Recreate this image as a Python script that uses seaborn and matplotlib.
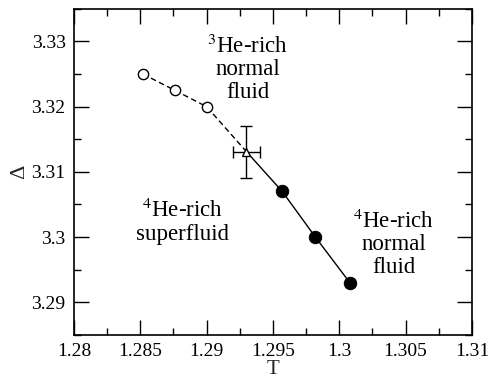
import matplotlib
matplotlib.use("Agg")
import matplotlib.pyplot as plt
import seaborn as sns
import pandas as pd
from matplotlib.ticker import MultipleLocator

# 3He-rich normal fluid boundary (open circles, dashed)
t_open = [1.2852, 1.2876, 1.2900]
d_open = [3.3250, 3.3225, 3.3200]

# tricritical point estimate with error bars
t_tri = [1.2930]
d_tri = [3.3131]
t_err = [0.0010]
d_err = [0.0040]

# lambda line (filled circles, solid)
t_fill = [1.2957, 1.2982, 1.3008]
d_fill = [3.3070, 3.3000, 3.2930]

sns.set_theme(style="ticks")
plt.rcParams["font.family"] = ["Liberation Serif", "DejaVu Serif"]
plt.rcParams["mathtext.fontset"] = "stix"

fig, ax = plt.subplots(figsize=(4.9, 3.84), dpi=100)
fig.subplots_adjust(left=0.151, right=0.963, top=0.977, bottom=0.128)

dash_df = pd.DataFrame({"T": t_open + t_tri, "D": d_open + d_tri})
solid_df = pd.DataFrame({"T": t_tri + t_fill, "D": d_tri + d_fill})

sns.lineplot(data=dash_df, x="T", y="D", ax=ax, color="black", lw=1.0,
             linestyle=(0, (4, 2.5)), sort=False, estimator=None)
sns.lineplot(data=solid_df, x="T", y="D", ax=ax, color="black", lw=1.0,
             sort=False, estimator=None)

sns.scatterplot(x=t_open, y=d_open, ax=ax, marker="o", s=55,
                facecolor="white", edgecolor="black", linewidth=1.0, zorder=3)
sns.scatterplot(x=t_fill, y=d_fill, ax=ax, marker="o", s=80,
                color="black", edgecolor="black", zorder=3)
ax.errorbar(t_tri, d_tri, xerr=t_err, yerr=d_err, fmt="^", ms=6,
            mfc="white", mec="black", ecolor="black", elinewidth=1.0,
            capsize=4, capthick=1.0, zorder=4)

ax.set_xlim(1.28, 1.31)
ax.set_ylim(3.285, 3.335)
ax.xaxis.set_minor_locator(MultipleLocator(0.0025))
ax.yaxis.set_minor_locator(MultipleLocator(0.005))
ax.set_xticks([1.28, 1.285, 1.29, 1.295, 1.3, 1.305, 1.31])
ax.set_xticklabels(["1.28", "1.285", "1.29", "1.295", "1.3", "1.305", "1.31"])
ax.set_yticks([3.29, 3.3, 3.31, 3.32, 3.33])
ax.set_yticklabels(["3.29", "3.3", "3.31", "3.32", "3.33"])

ax.tick_params(which="both", direction="in", top=True, right=True,
               labelsize=14, colors="black", width=1.0)
ax.tick_params(which="major", length=11, pad=6)
ax.tick_params(which="minor", length=5)
for sp in ax.spines.values():
    sp.set_color("black")
    sp.set_linewidth(1.2)

ax.set_xlabel("T", fontsize=15, labelpad=0)
ax.set_ylabel("Δ", fontsize=16, labelpad=2)

txt = dict(fontsize=16.5, ha="center", va="center", linespacing=1.1, color="black")
ax.text(1.2931, 3.3258, "$^3$He-rich\nnormal\nfluid", **txt)
ax.text(1.2882, 3.3023, "$^4$He-rich\nsuperfluid", **txt)
ax.text(1.3041, 3.2990, "$^4$He-rich\nnormal\nfluid", **txt)

fig.savefig("out.png", dpi=100)
